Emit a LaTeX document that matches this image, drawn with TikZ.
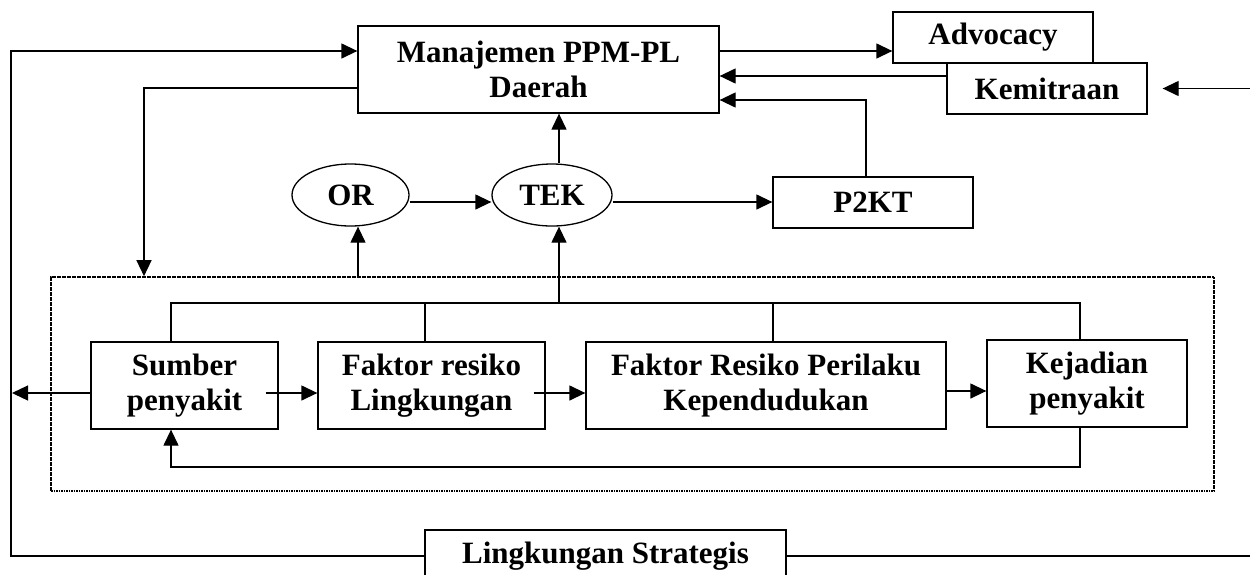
\documentclass[tikz,border=0pt]{standalone}
\usepackage{fontspec}
\setmainfont{Liberation Serif}
\usetikzlibrary{arrows.meta,shapes.geometric}
\begin{document}
\begin{tikzpicture}[x=1pt,y=-1pt,line width=1.3pt,
  box/.style={draw,fill=white,inner sep=0pt,align=center,
    font=\bfseries\fontsize{31}{35}\selectfont},
  oval/.style={box,ellipse},
  arr/.style={-{Triangle[length=16pt,width=15pt]}},
  grpbox/.style={draw,dash pattern=on 1.6pt off 0.9pt,line width=1.6pt,inner sep=0pt}]
\clip (0,0) rectangle (1250,574);

% dotted frame around the disease chain
\node[grpbox,minimum width=1163pt,minimum height=214pt] (grp) at (632.5,384) {};

% upper level
\node[box,minimum width=361pt,minimum height=87pt] (man) at (538.5,69.5) {Manajemen PPM-PL\\Daerah};
\node[box,minimum width=200pt,minimum height=51pt] (adv) at (993,37.5) {Advocacy};
\node[box,minimum width=200pt,minimum height=51pt] (kem) at (1047,88.5) {Kemitraan};
\node[oval,minimum width=117pt,minimum height=62pt] (or) at (350.5,195) {OR};
\node[oval,minimum width=120pt,minimum height=62pt] (tek) at (552,195) {TEK};
\node[box,minimum width=200pt,minimum height=51pt] (p2kt) at (873,202.5) {P2KT};

% disease chain
\node[box,minimum width=187pt,minimum height=87pt] (sum) at (184.5,385.5) {Sumber\\penyakit};
\node[box,minimum width=227pt,minimum height=87pt] (fr) at (431.5,385.5) {Faktor resiko\\Lingkungan};
\node[box,minimum width=360pt,minimum height=87pt] (fp) at (766,385.5) {Faktor Resiko Perilaku\\Kependudukan};
\node[box,minimum width=200pt,minimum height=87pt] (kej) at (1087,383.5) {Kejadian\\penyakit};

% strategic environment
\node[box,minimum width=361pt,minimum height=52pt] (ls) at (605.5,556) {Lingkungan Strategis};

% outer loop
\draw[arr] (ls.west) -- (ls.west -| 11,0) -- (11,51) -- (man.west |- 0,51);
\draw (ls.east) -- (ls.east -| 1250,0);

% management links
\draw[arr] (man.east |- 0,51) -- (adv.west |- 0,51);
\draw[arr] (kem.west |- 0,76) -- (man.east |- 0,76);
\draw[arr] (p2kt.north -| 866,0) -- (866,100) -- (man.east |- 0,100);
\draw[arr] (kem.east -| 1250,0) -- ([xshift=15pt]kem.east);
\draw[arr] (man.west |- 0,88) -- (144,88) -- (grp.north -| 144,0);

% OR / TEK / P2KT
\draw[arr] (grp.north -| 358,0) -- (or.south -| 358,0);
\draw[arr] (or.east |- 0,202) -- (tek.west |- 0,202);
\draw[arr] (tek.east |- 0,202) -- (p2kt.west |- 0,202);
\draw[arr] (tek.north -| 559,0) -- (man.south -| 559,0);
\draw[arr] (559,303) -- (tek.south -| 559,0);

% collecting bus above the chain
\draw (sum.north -| 171,0) -- (171,303) -- (1080,303) -- (kej.north -| 1080,0);
\draw (fr.north -| 425,0) -- (425,303);
\draw (fp.north -| 773,0) -- (773,303);

% chain arrows
\draw[arr] (sum.east |- 0,393) ++(-13,0) -- (fr.west |- 0,393);
\draw[arr] (fr.east |- 0,393) ++(-12,0) -- (fp.west |- 0,393);
\draw[arr] (fp.east |- 0,391) -- (kej.west |- 0,391);
\draw[arr] (sum.west |- 0,393) -- (12,393);

% feedback
\draw[arr] (kej.south -| 1080,0) -- (1080,467) -- (171,467) -- (sum.south -| 171,0);
\end{tikzpicture}
\end{document}
